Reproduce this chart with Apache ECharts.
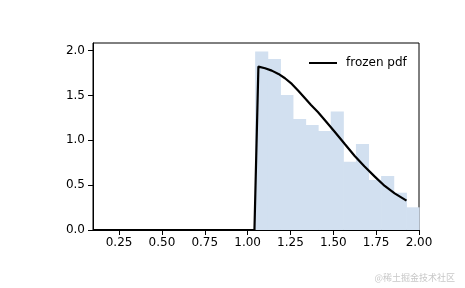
<!DOCTYPE html>
<html>
<head>
<meta charset="utf-8">
<script src="https://cdn.jsdelivr.net/npm/echarts@6/dist/echarts.min.js"></script>
<style>html,body{margin:0;padding:0;background:#fff}#c{width:465px;height:288px}</style>
</head>
<body>
<div id="c"></div>
<script>
// Histogram bin edges and densities
var binEdges = [1.044, 1.117, 1.191, 1.264, 1.338, 1.411, 1.485, 1.558, 1.632, 1.705, 1.779, 1.852, 1.926, 2.0];
var binHeights = [1.99, 1.907, 1.506, 1.238, 1.171, 1.104, 1.32, 0.762, 0.959, 0.558, 0.602, 0.416, 0.253];
// Frozen pdf curve samples
var pdfX = [0.098, 1.040, 1.063, 1.102, 1.141, 1.180, 1.218, 1.258, 1.297, 1.335, 1.370, 1.410, 1.450, 1.508, 1.567, 1.625, 1.681, 1.742, 1.800, 1.858, 1.927];
var pdfY = [0, 0, 1.822, 1.804, 1.777, 1.740, 1.692, 1.629, 1.550, 1.469, 1.394, 1.315, 1.227, 1.096, 0.959, 0.825, 0.710, 0.595, 0.491, 0.409, 0.327];
// Tick labels
var xTicks = [0.25, 0.5, 0.75, 1.0, 1.25, 1.5, 1.75, 2.0];
var yTicks = [0, 0.5, 1.0, 1.5, 2.0];

var histData = binHeights.map(function (h, i) { return [binEdges[i], binEdges[i + 1], h]; });
var lineData = pdfX.map(function (x, i) { return [x, pdfY[i]]; });

var chart = echarts.init(document.getElementById('c'), null, {renderer: 'canvas'});
var font = 'DejaVu Sans';
chart.setOption({
  animation: false,
  textStyle: {fontFamily: font},
  grid: {left: 93, right: 46, top: 43, bottom: 58, show: true, borderColor: '#000', borderWidth: 1, backgroundColor: 'transparent'},
  xAxis: {
    type: 'value', min: 0.098, max: 2.0,
    splitLine: {show: false},
    axisLine: {show: true, onZero: false, lineStyle: {color: '#000', width: 1}},
    axisTick: {show: true, length: 5, lineStyle: {color: '#000'}, customValues: xTicks},
    axisLabel: {color: '#000', fontSize: 12, fontFamily: font, margin: 7, customValues: xTicks,
      formatter: function (v) { return v.toFixed(2); }}
  },
  yAxis: {
    type: 'value', min: 0, max: 2.085,
    splitLine: {show: false},
    axisLine: {show: true, lineStyle: {color: '#000', width: 1}},
    axisTick: {show: true, length: 5, lineStyle: {color: '#000'}, customValues: yTicks},
    axisLabel: {color: '#000', fontSize: 12, fontFamily: font, margin: 8, customValues: yTicks,
      formatter: function (v) { return v.toFixed(1); }}
  },
  legend: {
    data: ['frozen pdf'], left: 304, top: 52, itemWidth: 28, itemHeight: 14,
    textStyle: {fontSize: 12, fontFamily: font, color: '#000', padding: [0, 0, 0, 4]},
    icon: 'path://M0,6 L28,6 L28,8 L0,8 Z', itemStyle: {color: '#000'}
  },
  series: [
    {
      type: 'custom', name: 'hist', data: histData, z: 1,
      encode: {x: [0, 1], y: 2},
      renderItem: function (params, api) {
        var p0 = api.coord([api.value(0), api.value(2)]);
        var p1 = api.coord([api.value(1), 0]);
        return {type: 'rect', shape: {x: p0[0], y: p0[1], width: p1[0] - p0[0] + 0.6, height: p1[1] - p0[1]},
          style: {fill: '#d2e0f0'}};
      }
    },
    {
      type: 'line', name: 'frozen pdf', data: lineData, symbol: 'none', z: 3,
      lineStyle: {color: '#000', width: 2.2}, itemStyle: {color: '#000'}
    }
  ],
  graphic: [{type: 'text', right: 10, bottom: 6, style: {text: '@稀土掘金技术社区', fill: '#c8c8c8', fontSize: 9, fontFamily: 'Noto Sans CJK SC'}}]
});
</script>
</body>
</html>
